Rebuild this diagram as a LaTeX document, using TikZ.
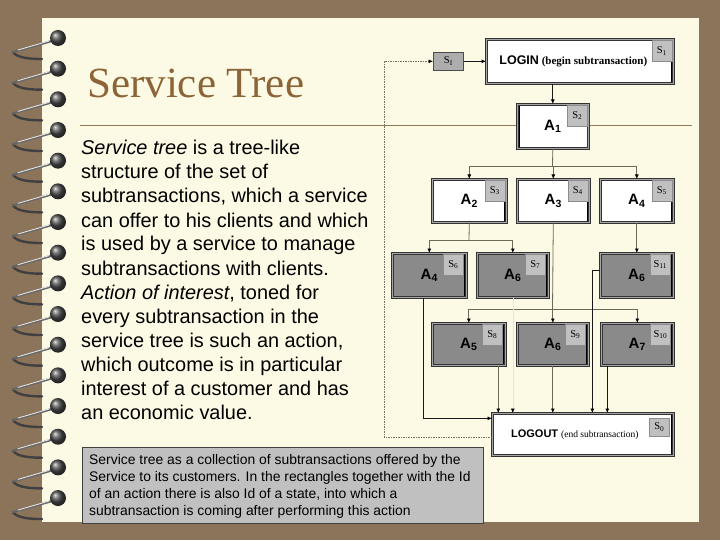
\documentclass[tikz,border=0pt]{standalone}
\usepackage{fontspec}
\setmainfont{Liberation Sans}
\newfontfamily\seriffam{Liberation Serif}
\usetikzlibrary{arrows.meta}
\definecolor{bgbrown}{RGB}{139,116,90}
\definecolor{paper}{RGB}{252,250,228}
\definecolor{titlebrown}{RGB}{140,100,55}
\definecolor{rulebrown}{RGB}{140,122,90}
\definecolor{boxgray}{RGB}{138,138,138}
\definecolor{tabgray}{RGB}{192,192,192}
\definecolor{capgray}{RGB}{192,192,192}
\definecolor{linegray}{RGB}{110,104,86}
\definecolor{dashcol}{RGB}{120,110,95}
\tikzset{
  bx/.style={draw=black!80, double=black!35, double distance=1.5pt, line width=0.6pt,
    inner sep=0, anchor=north west, font=\bfseries\fontsize{15}{15}\selectfont},
  wbox/.style={bx, fill=white},
  gbox/.style={bx, fill=boxgray},
  redge/.style={path picture={\fill[black] ([xshift=-2.5pt]path picture bounding box.north east) rectangle (path picture bounding box.south east);}},
  ledge/.style={path picture={\fill[black] (path picture bounding box.north west) rectangle ([xshift=3pt]path picture bounding box.south west);}},
  tb/.style={fill=tabgray, draw=black!45, line width=0.4pt, minimum width=20, minimum height=21,
    inner sep=0, anchor=north east, font=\seriffam\fontsize{10.5}{10.5}\selectfont},
  cthin/.style={draw=linegray, line width=0.8pt},
  cdark/.style={draw=black!90, line width=1pt},
  dashconn/.style={draw=dashcol, line width=0.7pt, dash pattern=on 1.5pt off 1pt},
  arr/.style={-{Latex[length=4.5pt,width=4pt,color=black]}},
  body/.style={anchor=base west, inner sep=0, font=\fontsize{19.9}{24}\selectfont},
  captext/.style={anchor=base west, inner sep=0, font=\fontsize{13.9}{17}\selectfont},
}
\begin{document}
\begin{tikzpicture}[x=1pt,y=-1pt]
\useasboundingbox (0,0) rectangle (720,540);
\fill[bgbrown] (0,0) rectangle (720,540);
\fill[paper] (42,18) rectangle (699,522);
% spiral rings
\foreach \i in {0,...,15}{
  \pgfmathsetmacro\yy{38+30.67*\i}
  \draw[line width=2.4pt, black!75, line cap=round] (13,\yy+14) .. controls (17,\yy+20) and (30,\yy+21) .. (42,\yy+21);
  \draw[line width=2.2pt, black!60, line cap=round] (52,\yy+3) -- (13,\yy+14);
  \draw[line width=0.9pt, white!80!gray, line cap=round] (49,\yy+3) -- (18,\yy+12);
  \shade[ball color=black!70] (58,\yy) circle (8);
}
% title
\node[anchor=base west, inner sep=0, font=\seriffam\fontsize{43}{43}\selectfont, text=titlebrown] (title) at (87,98) {Service Tree};
\draw[rulebrown, line width=1pt] (80,126) -- (692,126);
% body text
\foreach \t [count=\n] in {
  {\textit{Service tree} is a tree-like},
  {structure of the set of},
  {subtransactions, which a service},
  {can offer to his clients and which},
  {is used by a service to manage},
  {subtransactions with clients.},
  {\textit{Action of interest}, toned for},
  {every subtransaction in the},
  {service tree is such an action,},
  {which outcome is in particular},
  {interest of a customer and has},
  {an economic value.}}{
  \node[body] (l\n) at (81,{155+24*(\n-1)}) {\t};
}
% caption
\node[draw=black!75, fill=capgray, line width=0.8pt, minimum width=401, minimum height=76, anchor=north west, inner sep=0] (cap) at (82,447) {};
\node[captext] (c1) at (89,464) {Service tree as a collection of subtransactions offered by the};
\node[captext] (c2) at (89,481) {Service to its customers. In the rectangles together with the Id};
\node[captext] (c3) at (89,498) {of an action there is also Id of a state, into which a};
\node[captext] (c4) at (89,515) {subtransaction is coming after performing this action};
% diagram boxes
\node[fill=tabgray!90!black, draw=black!70, line width=0.6pt, minimum width=30, minimum height=18, inner sep=0, anchor=north west, font=\seriffam\fontsize{10.5}{10.5}\selectfont] (si) at (433,52) {S\textsubscript{I}};
\node[wbox, redge, minimum width=187, minimum height=44, font=\bfseries] (login) at (486,39) {{\fontsize{12.5}{12.5}\selectfont LOGIN} {\seriffam\fontsize{11}{11}\selectfont\bfseries (begin subtransaction)}\hspace*{13pt}};
\node[wbox, ledge, minimum width=71, minimum height=44] (a1) at (517,104) {\raisebox{-3pt}{A\textsubscript{1}}};
\node[wbox, redge, minimum width=74, minimum height=43] (a2) at (432,179) {A\textsubscript{2}};
\node[wbox, redge, minimum width=72, minimum height=43] (a3) at (517,179) {A\textsubscript{3}};
\node[wbox, redge, minimum width=73, minimum height=43] (a4) at (600,179) {A\textsubscript{4}};
\node[gbox, redge, minimum width=74, minimum height=44] (b1) at (392,253) {A\textsubscript{4}};
\node[gbox, redge, minimum width=71, minimum height=44] (b2) at (477,253) {A\textsubscript{6}};
\node[gbox, redge, minimum width=73, minimum height=44] (b3) at (600,253) {A\textsubscript{6}};
\node[gbox, redge, minimum width=73, minimum height=42] (d1) at (432,323) {A\textsubscript{5}};
\node[gbox, redge, minimum width=71, minimum height=42] (d2) at (517,323) {A\textsubscript{6}};
\node[gbox, redge, minimum width=72, minimum height=42] (d3) at (601,323) {A\textsubscript{7}};
\node[wbox, redge, minimum width=181, minimum height=42, font=\fontsize{11}{11}\selectfont] (lo) at (492,413) {{\bfseries LOGOUT} {\seriffam\fontsize{9.5}{9.5}\selectfont (end subtransaction)}\hspace*{16pt}};
% tabs
\node[tb] (t1) at ([xshift=-1.5pt,yshift=-1.5pt]login.north east) {S\textsubscript{1}};
\node[tb] (t2) at ([xshift=-1pt,yshift=-1pt]a1.north east) {S\textsubscript{2}};
\node[tb] (t3) at ([xshift=-1.5pt,yshift=-1pt]a2.north east) {S\textsubscript{3}};
\node[tb] (t4) at ([xshift=-1.5pt,yshift=-1pt]a3.north east) {S\textsubscript{4}};
\node[tb] (t5) at ([xshift=-1.5pt,yshift=-1pt]a4.north east) {S\textsubscript{5}};
\node[tb] (t6) at ([xshift=-3pt,yshift=-1pt]b1.north east) {S\textsubscript{6}};
\node[tb] (t7) at ([xshift=-3pt,yshift=-1pt]b2.north east) {S\textsubscript{7}};
\node[tb] (t11) at ([xshift=-3pt,yshift=-1pt]b3.north east) {S\textsubscript{11}};
\node[tb] (t8) at ([xshift=-3pt,yshift=-1pt]d1.north east) {S\textsubscript{8}};
\node[tb] (t9) at ([xshift=-3pt,yshift=-1pt]d2.north east) {S\textsubscript{9}};
\node[tb] (t10) at ([xshift=-3pt,yshift=-1pt]d3.north east) {S\textsubscript{10}};
\node[tb, minimum height=18] (t0) at ([xshift=-4pt,yshift=-5pt]lo.north east) {S\textsubscript{0}};
% connectors
\draw[dashconn, arr] ([yshift=-3pt]lo.west) -- ++(-108,0) |- (si.west);
\draw[cdark, arr] (si.east) -- (login.west);
\draw[cdark, arr] (login.south -| a1.north) -- (a1.north);
\coordinate (j1) at (552.5,166);
\draw[cthin] (a1.south) -- (j1);
\draw[cthin] (j1 -| a2.north) -- (j1 -| a4.north);
\foreach \n in {a2,a3,a4} \draw[cthin, arr] (j1 -| \n.north) -- (\n.north);
\coordinate (j2) at (469,240);
\draw[cthin] (a2.south) -- (j2);
\draw[cthin] (j2 -| b1.north) -- (j2 -| b2.north);
\foreach \n in {b1,b2} \draw[cthin, arr] (j2 -| \n.north) -- (\n.north);
\draw[cthin, arr] (a4.south) -- (b3.north);
\coordinate (j3) at (552.5,309);
\draw[cthin] (a3.south) -- (j3);
\draw[cthin] (j3 -| d1.north) -- (j3 -| d3.north);
\foreach \n in {d1,d2,d3} \draw[cthin, arr] (j3 -| \n.north) -- (\n.north);
\coordinate (b1o) at ([xshift=-6pt]b1.south);
\draw[cdark, arr] (b1o) |- ([yshift=16pt]lo.west);
\draw[cdark, arr] ([yshift=5pt]b3.west) -| ([xshift=9.5pt]lo.north);
\coordinate (d1o) at ([xshift=29.5pt]d1.south);
\draw[cthin, arr] (d1o) -- (d1o |- lo.north);
\draw[draw=paper!92!black, line width=0.5pt, arr] (b2.south) -- (b2.south |- lo.north);
\draw[cthin, arr] (d2.south) -- (d2.south |- lo.north);
\coordinate (d3o) at ([xshift=-30pt]d3.south);
\draw[cdark, arr] (d3o) -- (d3o |- lo.north);
\end{tikzpicture}
\end{document}
